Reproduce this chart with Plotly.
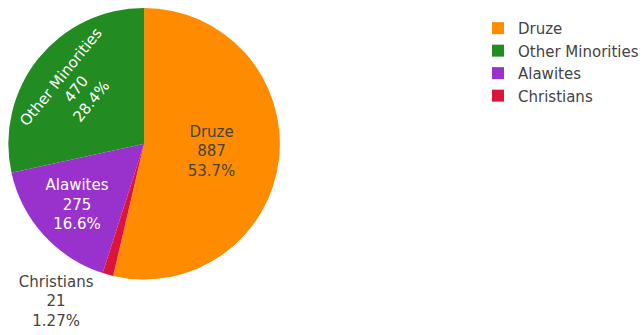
import plotly.graph_objects as go

labels = ["Druze", "Other Minorities", "Alawites", "Christians"]
values = [887, 470, 275, 21]
colors = ["#FF8C00", "#228B22", "#9932CC", "#DC143C"]

W, H = 644, 335

fig = go.Figure(
    go.Pie(
        labels=labels,
        values=values,
        marker=dict(colors=colors),
        textinfo="label+value+percent",
        textfont=dict(size=15),
        domain=dict(x=[8 / W, 282 / W], y=[1 - 282 / H, 1 - 8 / H]),
    )
)

fig.update_layout(
    width=W,
    height=H,
    margin=dict(l=0, r=0, t=0, b=0),
    font=dict(family="DejaVu Sans, Verdana, sans-serif", size=15, color="#444"),
    paper_bgcolor="white",
    plot_bgcolor="white",
    legend=dict(x=481 / W, xanchor="left", y=1 - 12 / H, yanchor="top",
                font=dict(size=15)),
)

fig.write_html("out.html",
               config={"displayModeBar": False},
               post_script="document.body.style.margin='0';document.body.style.overflow='hidden';")
